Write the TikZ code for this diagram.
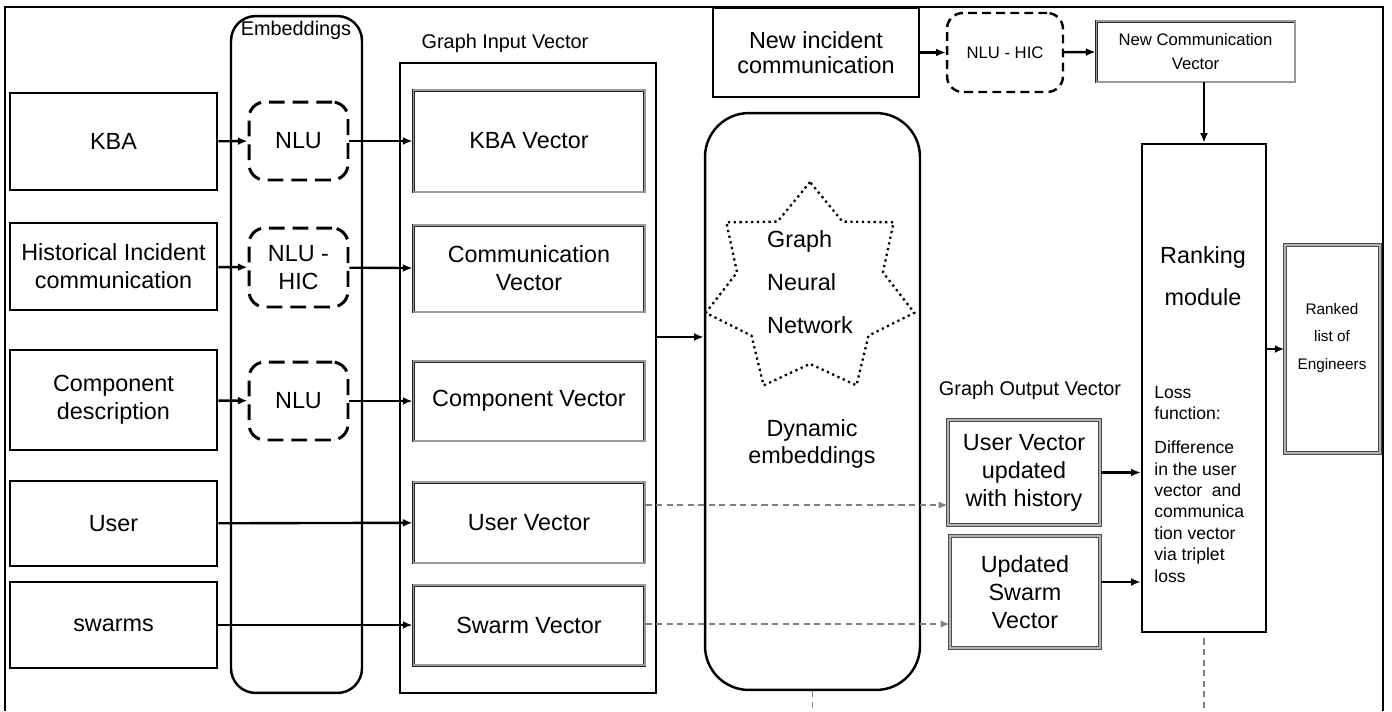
\documentclass[tikz,border=0pt]{standalone}
\usepackage{fontspec}
\setmainfont{Liberation Sans}
\usetikzlibrary{arrows.meta,shapes.geometric}

\newcommand\mainsize{\fontsize{13.3}{16}\selectfont}
\newcommand\labsize{\fontsize{11.3}{13}\selectfont}
\newcommand\smallsize{\fontsize{9.5}{13.6}\selectfont}

\tikzset{
  inbox/.style={draw, line width=1.5pt, inner sep=0pt, align=center, font=\mainsize},
  nlubox/.style={draw, line width=1.7pt, dash pattern=on 9pt off 4.5pt, rounded corners=9pt, inner sep=0pt, align=center, font=\mainsize},
  vecbox/.style={draw=black!85, double=black!40, double distance=0.6pt, line width=0.55pt, inner sep=0pt, align=center, font=\mainsize},
  outbox/.style={draw=black!70, double=black!30, double distance=1.1pt, line width=0.6pt, inner sep=0pt, align=center, font=\mainsize},
  panel/.style={draw, line width=1.4pt, inner sep=0pt},
  arr/.style={-{Latex[length=5.5pt,width=4.5pt]}, line width=1.35pt},
  darr/.style={-{Latex[length=5pt,width=4pt]}, draw=black!50, dash pattern=on 3.5pt off 2.5pt, line width=0.6pt},
}

\begin{document}
\begin{tikzpicture}[x=0.02cm, y=-0.02cm]
    \useasboundingbox (0,0) rectangle (1392,711);
    % frame
    \draw[line width=0.9pt] (5,711) -- (5,7) -- (1383,7) -- (1383,711);

    % columns
    \node[panel, rounded corners=14pt, minimum width=2.62cm, minimum height=13.54cm] (embcol) at (296.5,354.5) {};
    \node[font=\labsize] (embtitle) at (296,30) {Embeddings};
    \node[panel, minimum width=5.12cm, minimum height=12.6cm] (ginput) at (528,378) {};
    \node[font=\labsize] (gintitle) at (505,43) {Graph Input Vector};
    \node[panel, rounded corners=25pt, minimum width=4.3cm, minimum height=11.54cm] (dyn) at (812.5,401.5) {};

    % sources
    \node[inbox, minimum width=4.14cm, minimum height=1.94cm] (kba) at (113.5,141.5) {KBA};
    \node[inbox, minimum width=4.14cm, minimum height=1.74cm] (hist) at (113.5,266.5) {Historical Incident\\communication};
    \node[inbox, minimum width=4.14cm, minimum height=2cm] (comp) at (113.5,400) {Component\\description};
    \node[inbox, minimum width=4.14cm, minimum height=1.7cm] (user) at (113.5,523.5) {User};
    \node[inbox, minimum width=4.14cm, minimum height=1.72cm] (swarms) at (113.5,625) {swarms};

    % embeddings
    \node[nlubox, minimum width=1.98cm, minimum height=1.56cm] (nlua) at (298.5,141) {NLU};
    \node[nlubox, minimum width=1.98cm, minimum height=1.58cm] (nluhic) at (298.5,267.5) {NLU -\\HIC};
    \node[nlubox, minimum width=1.98cm, minimum height=1.56cm] (nlub) at (298.5,401) {NLU};

    % graph input vectors
    \node[vecbox, minimum width=4.64cm, minimum height=2.04cm] (kbavec) at (529,141) {KBA Vector};
    \node[vecbox, minimum width=4.64cm, minimum height=1.74cm] (comvec) at (529,268.5) {Communication\\Vector};
    \node[vecbox, minimum width=4.64cm, minimum height=1.6cm] (compvec) at (529,401) {Component Vector};
    \node[vecbox, minimum width=4.64cm, minimum height=1.62cm] (uvec) at (529,522.5) {User Vector};
    \node[vecbox, minimum width=4.64cm, minimum height=1.6cm] (svec) at (529,625) {Swarm Vector};

    % graph neural network
    \node[draw, dotted, line width=1.3pt, star, star points=7, star point ratio=1.43,
          minimum size=4.28cm, inner sep=0pt] (gnn) at (810,289) {};
    \node[align=left, font=\fontsize{13.3}{24.4}\selectfont] (gnntext) at (810,282) {Graph\\Neural\\Network};
    \node[align=center, font=\fontsize{13.3}{15.4}\selectfont] (dyntext) at (812,444) {Dynamic\\embeddings};

    % new incident
    \node[inbox, minimum width=4.12cm, minimum height=1.78cm, font=\fontsize{13.3}{14.2}\selectfont] (newinc) at (816,52.5) {New incident\\communication};
    \node[draw, line width=1.4pt, dash pattern=on 5pt off 3pt, rounded corners=9pt, inner sep=0pt,
          font=\smallsize, minimum width=2.32cm, minimum height=1.58cm] (nlutop) at (1005,52.5) {NLU - HIC};
    \node[vecbox, font=\smallsize, minimum width=3.98cm, minimum height=1.22cm] (newvec) at (1195.5,51.5) {New Communication\\Vector};

    % graph output
    \node[font=\labsize] (gouttitle) at (1030,390) {Graph Output Vector};
    \node[outbox, minimum width=3.04cm, minimum height=2.1cm] (upuser) at (1024,472.5) {User Vector\\updated\\with history};
    \node[outbox, minimum width=3cm, minimum height=2.24cm] (upswarm) at (1025,592) {Updated\\Swarm\\Vector};

    % ranking
    \node[panel, minimum width=2.48cm, minimum height=9.76cm] (rank) at (1204,388) {};
    \node[align=center, font=\fontsize{13.3}{24}\selectfont] (ranktitle) at (1203,276) {Ranking\\module};
    \node[align=left, anchor=north west, inner sep=0pt, font=\fontsize{10}{12.2}\selectfont] (losstext) at (1154,386)
        {Loss\\function:\\[7pt]Difference\\in the user\\vector~ and\\communica\\tion vector\\via triplet\\loss};
    \node[outbox, line width=0.7pt, double distance=1.4pt, minimum width=1.9cm, minimum height=4.16cm] (ranked) at (1332.5,349) {};
    \node[align=center, font=\fontsize{8.7}{15.9}\selectfont] (rankedtext) at (1332,338) {Ranked\\list of\\Engineers};

    % connectors
    \draw[arr] (kba) -- (nlua);
    \draw[arr] (nlua) -- (kbavec);
    \draw[arr] (hist) -- (nluhic);
    \draw[arr] (nluhic) -- (comvec);
    \draw[arr] (comp) -- (nlub);
    \draw[arr] (nlub) -- (compvec);
    \draw[arr] (user) -- (uvec);
    \draw[arr] (swarms) -- (svec);
    \draw[arr] (ginput.east |- 0,337) -- (dyn.west |- 0,337);
    \draw[arr] (newinc) -- (nlutop);
    \draw[arr] (nlutop) -- (newvec);
    \draw[arr] (newvec.south -| rank.north) -- (rank.north);
    \draw[darr] (uvec.east |- 0,505) -- (upuser.west |- 0,505);
    \draw[darr] (svec.east |- 0,624) -- (upswarm.west |- 0,624);
    \draw[arr] (upuser) -- (upuser -| rank.west);
    \draw[arr] (upswarm.east |- 0,582) -- (rank.west |- 0,582);
    \draw[arr] (rank.east |- ranked) -- (ranked);
    \draw[draw=black!50, dash pattern=on 3.5pt off 2.5pt, line width=0.6pt] (dyn.south) -- (dyn.south |- 0,711);
    \draw[draw=black!50, dash pattern=on 3.5pt off 2.5pt, line width=0.6pt] ([yshift=-3pt]rank.south) -- (rank.south |- 0,711);
\end{tikzpicture}
\end{document}
